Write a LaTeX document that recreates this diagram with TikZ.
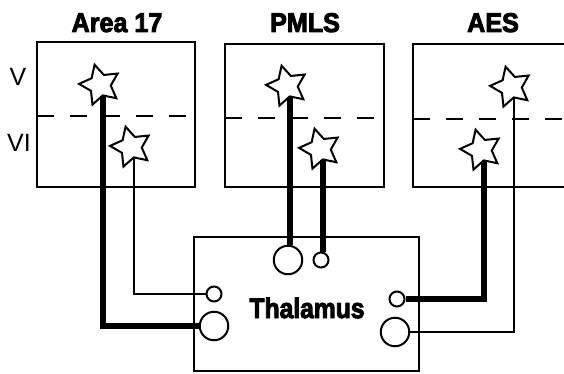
\documentclass[tikz,border=0pt]{standalone}
\usepackage{fontspec}
\setmainfont{Liberation Sans}
\newfontfamily\heavyfont{Liberation Sans}[UprightFont=*-Bold, FakeBold=3.5]
\usetikzlibrary{shapes.geometric}
\begin{document}
\begin{tikzpicture}[x=1pt,y=-1pt,
  boxline/.style={line width=2pt},
  cellstar/.style={draw, star, star points=5, star point ratio=1.95, minimum size=42pt, inner sep=0pt, line width=2pt, fill=white, rotate=15},
  bigcell/.style={draw, circle, minimum size=28.5pt, inner sep=0pt, line width=2pt},
  smallcell/.style={draw, circle, minimum size=15pt, inner sep=0pt, line width=2pt},
  thickaxon/.style={line width=5.8pt},
  thinaxon/.style={line width=2pt},
  arealabel/.style={font=\fontsize{27}{27}\selectfont\heavyfont, anchor=base, inner sep=0pt, xscale=0.93},
  layerlabel/.style={font=\fontsize{25}{25}\selectfont, inner sep=0pt},
  layersep/.style={dash pattern=on 17pt off 16pt, line width=2pt}]
\useasboundingbox (0,0) rectangle (564,374);

% labels
\node[arealabel] (tA) at (117,32) {Area 17};
\node[arealabel] (tB) at (305,32) {PMLS};
\node[arealabel] (tC) at (493,32) {AES};
\node[layerlabel] (lV) at (18,77) {V};
\node[layerlabel] (lVI) at (19,143) {VI};

% area boxes
\draw[boxline] (37,42) rectangle (195,187);
\draw[boxline] (225,44) rectangle (384,187);
\draw[boxline] (564,44) -- (413,44) -- (413,187) -- (564,187);

% layer separators
\draw[layersep] (37,116) -- (195,116);
\draw[layersep] (225,118) -- (384,118);
\draw[layersep] (413,119) -- (564,119);

% thalamus
\draw[boxline] (194,237) rectangle (419,371);
\node[font=\fontsize{28}{28}\selectfont\heavyfont, anchor=base, inner sep=0pt, xscale=0.88] (thal) at (307,318) {Thalamus};

% cells
\node[cellstar] (sA) at (100,85) {};
\node[cellstar] (sB) at (131,147) {};
\node[cellstar] (sC) at (287,86) {};
\node[cellstar] (sD) at (320,149) {};
\node[cellstar] (sF) at (511,87) {};
\node[cellstar] (sE) at (481,150) {};

\node[smallcell] (cAs) at (214,294) {};
\node[bigcell] (cAb) at (214,326) {};
\node[bigcell] (cCb) at (288,260) {};
\node[smallcell] (cDs) at (321,260) {};
\node[smallcell] (cEs) at (397,299) {};
\node[bigcell] (cFb) at (395,332) {};

% axons
\draw[thickaxon] (sA.inner point 3) |- (cAb.west);
\draw[thinaxon] (sB.inner point 3) |- (cAs.west);
\draw[thickaxon] (sC.inner point 3) -- (sC.inner point 3 |- cCb.north);
\draw[thickaxon] (sD.inner point 3) -- (sD.inner point 3 |- cDs.north);
\draw[thickaxon] (sE.inner point 3) |- (cEs.east);
\draw[thinaxon] (sF.inner point 3) |- (cFb.east);
\end{tikzpicture}
\end{document}
